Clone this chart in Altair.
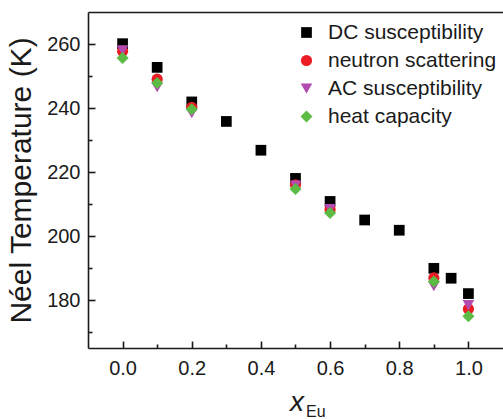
import altair as alt
import pandas as pd

# Néel temperature vs Eu fraction, four measurement techniques
series_names = ["DC susceptibility", "neutron scattering", "AC susceptibility", "heat capacity"]
series_colors = ["#000000", "#ec1c24", "#b24ab0", "#5bbb45"]
series_shapes = ["square", "circle", "triangle-down", "diamond"]
series_sizes = [115, 145, 160, 190]

dc_x = [0.0, 0.1, 0.2, 0.3, 0.4, 0.5, 0.6, 0.7, 0.8, 0.9, 0.95, 1.0]
dc_t = [260.1, 252.7, 241.9, 235.8, 226.8, 218.0, 210.8, 205.0, 201.8, 189.9, 186.8, 182.0]

ns_x = [0.0, 0.1, 0.2, 0.5, 0.6, 0.9, 1.0]
ns_t = [257.7, 249.0, 240.2, 216.0, 208.3, 186.9, 177.2]

ac_x = [0.0, 0.1, 0.2, 0.5, 0.6, 0.9, 1.0]
ac_t = [258.0, 246.5, 238.4, 215.8, 208.4, 184.3, 178.4]

hc_x = [0.0, 0.1, 0.2, 0.5, 0.6, 0.9, 1.0]
hc_t = [255.6, 247.8, 239.6, 214.7, 207.2, 185.8, 174.9]

x_major = [0.0, 0.2, 0.4, 0.6, 0.8, 1.0]
x_minor = [0.1, 0.3, 0.5, 0.7, 0.9]
y_major = [180, 200, 220, 240, 260]
y_minor = [170, 190, 210, 230, 250]

frames = []
for name, xs, ts in zip(series_names, [dc_x, ns_x, ac_x, hc_x], [dc_t, ns_t, ac_t, hc_t]):
    frames.append(pd.DataFrame({"x": xs, "t": ts, "method": name}))
df = pd.concat(frames, ignore_index=True)

W, H = 415, 336
FONT = "Liberation Sans"
INK = "#1a1a1a"

x_scale = alt.Scale(domain=[-0.1, 1.1], nice=False, zero=False)
y_scale = alt.Scale(domain=[165, 270], nice=False, zero=False)

legend = alt.Legend(
    orient="none", legendX=208, legendY=10, padding=0, title=None,
    labelFontSize=21, labelFont=FONT, labelColor=INK, labelOffset=11,
    symbolSize=75, symbolStrokeWidth=0, rowPadding=6, labelLimit=300,
)

base = alt.Chart(df)

points = base.mark_point(filled=True, opacity=1, strokeWidth=0).encode(
    x=alt.X("x:Q", scale=x_scale,
            axis=alt.Axis(values=x_major, format=".1f", ticks=False, grid=False,
                          labelFontSize=20, labelPadding=10, labelColor=INK,
                          labelFont=FONT, domainColor=INK, domainWidth=1.6,
                          title=None)),
    y=alt.Y("t:Q", scale=y_scale,
            axis=alt.Axis(values=y_major, ticks=False, grid=False,
                          labelFontSize=20, labelPadding=8, labelColor=INK,
                          labelFont=FONT, domainColor=INK, domainWidth=1.6,
                          title="Néel Temperature (K)", titleFontSize=30,
                          titleFont=FONT, titleFontWeight="normal",
                          titleColor=INK, titlePadding=10)),
    color=alt.Color("method:N", sort=series_names,
                    scale=alt.Scale(domain=series_names, range=series_colors),
                    legend=legend),
    shape=alt.Shape("method:N", sort=series_names,
                    scale=alt.Scale(domain=series_names, range=series_shapes),
                    legend=legend),
    size=alt.Size("method:N", sort=series_names,
                  scale=alt.Scale(domain=series_names, range=series_sizes),
                  legend=None),
)

# inward-pointing major ticks
major_ticks = base.mark_point(opacity=0).encode(
    x=alt.X("x:Q", axis=alt.Axis(orient="top", offset=-H, values=x_major,
                                 labels=False, domain=False, grid=False,
                                 tickSize=7, tickWidth=1.6, tickColor=INK,
                                 title=None)),
    y=alt.Y("t:Q", axis=alt.Axis(orient="right", offset=-W, values=y_major,
                                 labels=False, domain=False, grid=False,
                                 tickSize=7, tickWidth=1.6, tickColor=INK,
                                 title=None)),
)

# inward-pointing minor ticks
minor_ticks = base.mark_point(opacity=0).encode(
    x=alt.X("x:Q", axis=alt.Axis(orient="top", offset=-H, values=x_minor,
                                 labels=False, domain=False, grid=False,
                                 tickSize=4, tickWidth=1.6, tickColor=INK,
                                 title=None)),
    y=alt.Y("t:Q", axis=alt.Axis(orient="right", offset=-W, values=y_minor,
                                 labels=False, domain=False, grid=False,
                                 tickSize=4, tickWidth=1.6, tickColor=INK,
                                 title=None)),
)

# top frame line
top_line = base.mark_point(opacity=0).encode(
    x=alt.X("x:Q", axis=alt.Axis(orient="top", labels=False, ticks=False,
                                 grid=False, domainColor=INK, domainWidth=1.6,
                                 title=None)),
    y=alt.Y("t:Q", axis=None),
)

# x axis title: italic x with subscript Eu
title_main = alt.Chart(pd.DataFrame({"s": ["x"]})).mark_text(
    font=FONT, fontSize=28, fontStyle="italic", color=INK,
    align="center", baseline="alphabetic",
).encode(x=alt.value(209), y=alt.value(399), text="s:N")

title_sub = alt.Chart(pd.DataFrame({"s": ["Eu"]})).mark_text(
    font=FONT, fontSize=16, color=INK, align="left", baseline="alphabetic",
).encode(x=alt.value(218), y=alt.value(405), text="s:N")

chart = alt.layer(
    points, major_ticks, minor_ticks, top_line, title_main, title_sub
).resolve_axis(
    x="independent", y="independent"
).properties(
    width=W, height=H,
    autosize=alt.AutoSizeParams(type="none"),
    padding={"left": 88, "top": 12, "right": 0, "bottom": 71},
).configure_view(
    stroke=None
)

chart.save("out.html", embed_options={"renderer": "svg", "actions": False})
